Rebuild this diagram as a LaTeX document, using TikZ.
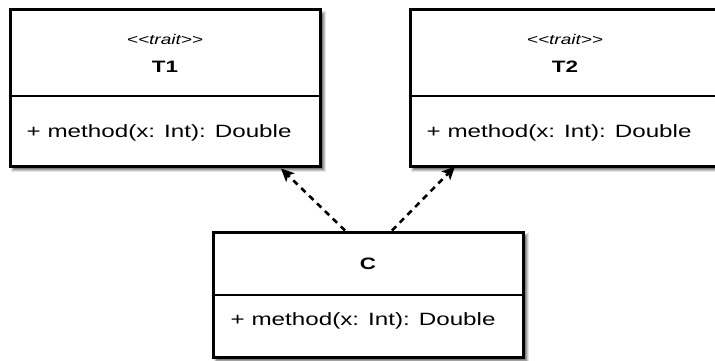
\documentclass[tikz,border=0pt]{standalone}
\usepackage{fontspec}
\setmainfont{Liberation Sans}[FakeStretch=1.36]
\usetikzlibrary{arrows.meta,calc}

\tikzset{
  classbox/.style={draw=black, line width=3pt, fill=white, rectangle, inner sep=0pt},
  divider/.style={draw=black, line width=2pt},
  stereo/.style={font=\fontsize{14}{16}\selectfont\itshape, inner sep=0pt},
  cname/.style={font=\fontsize{16.5}{19}\selectfont\bfseries, inner sep=0pt},
  member/.style={font=\fontsize{17.8}{20}\selectfont, inner sep=0pt, anchor=west},
  realizes/.style={draw=black, line width=2.6pt, dash pattern=on 6pt off 5pt,
    -{Stealth[length=13pt,width=12pt,inset=3pt]}}
}

% soft drop shadow behind a box given by two corners
\newcommand{\softshadow}[2]{%
  \foreach \k/\op in {6/0.10,5/0.14,4/0.18,3/0.22,2/0.26} {
    \fill[black, opacity=\op] ($#1+(7-\k,7-\k)$) rectangle ($#2+(\k,\k)$);
  }%
}

\begin{document}
\begin{tikzpicture}[x=1pt, y=-1pt]
  \useasboundingbox (0,0) rectangle (715,361);

  % shadows
  \softshadow{(10,10)}{(320,166)}
  \softshadow{(410,10)}{(722,166)}
  \softshadow{(213,232)}{(523,357)}

  % class boxes
  \node[classbox, minimum width=310pt, minimum height=156pt] (T1) at (165,88) {};
  \node[classbox, minimum width=312pt, minimum height=156pt] (T2) at (566,88) {};
  \node[classbox, minimum width=310pt, minimum height=125pt] (C) at (368,294.5) {};

  % compartments
  \draw[divider] ($(T1.north west)+(0,87)$) -- ($(T1.north east)+(0,87)$);
  \draw[divider] ($(T2.north west)+(0,87)$) -- ($(T2.north east)+(0,87)$);
  \draw[divider] ($(C.north west)+(0,64)$) -- ($(C.north east)+(0,64)$);

  % T1
  \node[stereo] (T1s) at ($(T1.north)+(0,31)$) {{<}{<}trait{>}{>}};
  \node[cname] (T1n) at ($(T1.north)+(0,58)$) {T1};
  \node[member] (T1m) at ($(T1.north west)+(18,124)$) {+ method(x: Int): Double};

  % T2
  \node[stereo] (T2s) at ($(T2.north)+(-1,31)$) {{<}{<}trait{>}{>}};
  \node[cname] (T2n) at ($(T2.north)+(-1,58)$) {T2};
  \node[member] (T2m) at ($(T2.north west)+(18,124)$) {+ method(x: Int): Double};

  % C
  \node[cname] (Cn) at ($(C.north)+(0,33)$) {C};
  \node[member] (Cm) at ($(C.north west)+(19,90)$) {+ method(x: Int): Double};

  % realization arrows
  \coordinate (c1) at ($(C.north)+(-23,0)$);
  \coordinate (c2) at ($(C.north)+(24,0)$);
  \coordinate (t1) at ($(T1.south)+(116,1)$);
  \coordinate (t2) at ($(T2.south)+(-111,-1)$);
  \draw[realizes] (c1) -- (t1);
  \draw[realizes] (c2) -- (t2);
\end{tikzpicture}
\end{document}
